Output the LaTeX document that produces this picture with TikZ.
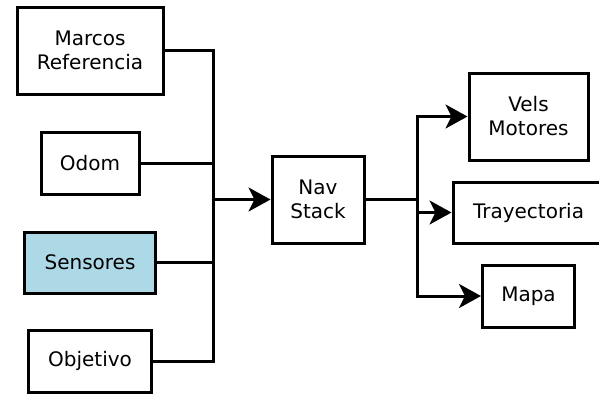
\documentclass[tikz,border=0pt]{standalone}
\usepackage{fontspec}
\setmainfont{DejaVu Sans}
\usetikzlibrary{positioning, arrows.meta}
\definecolor{sensorblue}{RGB}{173,216,230}

\begin{document}
\begin{tikzpicture}[x=0.5pt, y=-0.5pt, line width=1.5pt, >={Stealth[length=11pt, width=12pt, inset=3pt]}]
	\tikzset{
	box/.style={draw, line width=1.5pt, align=center, inner sep=2pt}, % sets the properties for each block
	}
	\useasboundingbox (0,0) rectangle (599,393);
	\node[box, minimum width=73pt, minimum height=43.5pt] (marcos) at (90,50.5) {Marcos\\Referencia};
	\node[box, below of=marcos, node distance=56.25pt, minimum width=49pt, minimum height=31pt] (odom) {Odom};
	\node[box, below of=odom, node distance=49.75pt, fill=sensorblue, minimum width=65.5pt, minimum height=30.5pt] (sensores) {Sensores};
	\node[box, below of=sensores, node distance=49.25pt, minimum width=61.5pt, minimum height=31pt] (objetivo) {Objetivo};
	\node[box, minimum width=46pt, minimum height=43.5pt] (nav) at (318,199.5) {Nav\\Stack};
	\node[box, minimum width=59.5pt, minimum height=43.5pt] (vels) at (528.5,116.5) {Vels\\Motores};
	\node[box, below of=vels, node distance=48pt, minimum width=75.5pt, minimum height=30.5pt] (tray) {Trayectoria};
	\node[box, below of=tray, node distance=41.75pt, minimum width=46pt, minimum height=31pt] (mapa) {Mapa};
	\coordinate (jin) at (213,199.5);
	\coordinate (jout) at (417,199.5);

	% inputs
	\draw (marcos.east) -| (jin);
	\draw (objetivo.east) -| (jin);
	\draw (odom.east) -- (odom.east -| jin);
	\draw (sensores.east) -- (sensores.east -| jin);
	\draw[->] (jin) -- (nav);

	% outputs
	\draw (nav) -- (jout);
	\draw[->] (jout) |- (vels);
	\draw[->] (jout) |- (mapa);
	\draw[->] (jout |- tray.west) -- (tray);
\end{tikzpicture}
\end{document}
